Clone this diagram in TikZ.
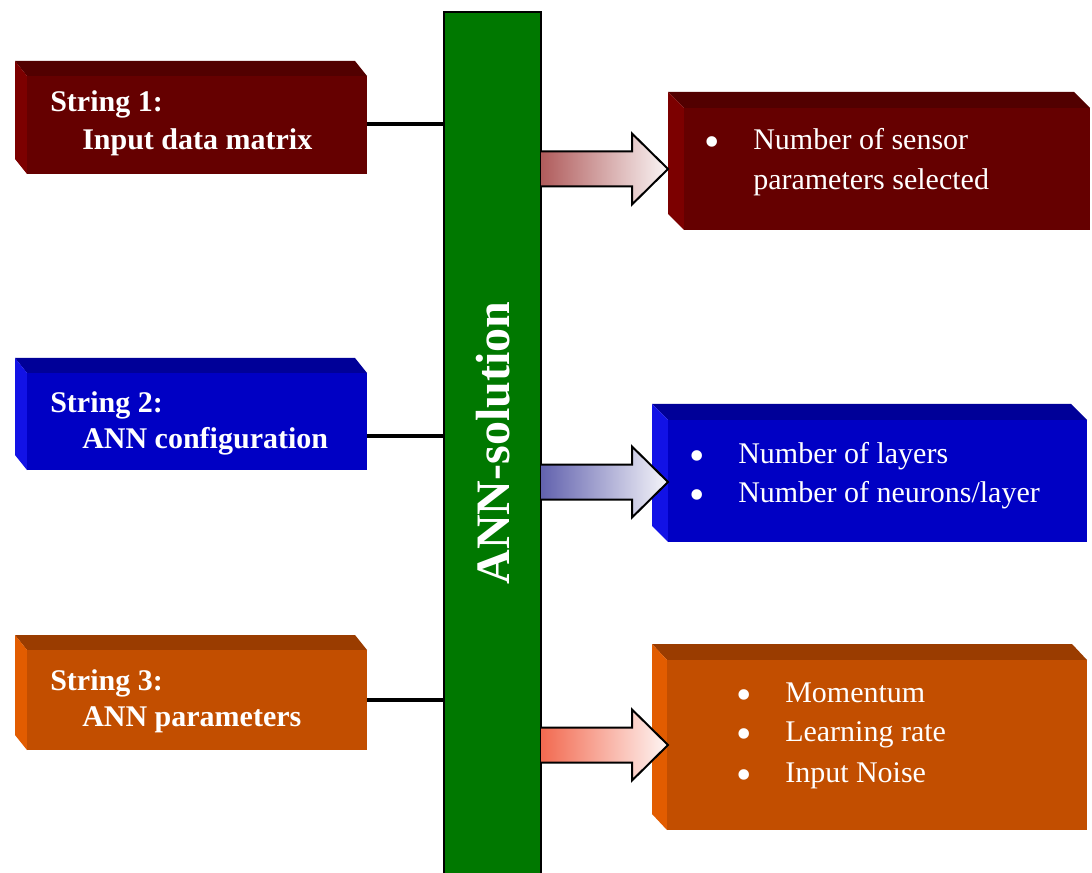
\documentclass[tikz,border=0pt]{standalone}
\usepackage{fontspec}
\setmainfont{Liberation Serif}
\usetikzlibrary{calc,fit}

% face colours of the three box families
\definecolor{redfront}{HTML}{650000}
\definecolor{redtop}{HTML}{520000}
\definecolor{redside}{HTML}{7C0000}
\definecolor{bluefront}{HTML}{0000C4}
\definecolor{bluetop}{HTML}{000098}
\definecolor{blueside}{HTML}{1212E6}
\definecolor{orfront}{HTML}{C24E00}
\definecolor{ortop}{HTML}{9A3C00}
\definecolor{orside}{HTML}{E25C00}
\definecolor{bargreen}{HTML}{007800}
\definecolor{redarrow}{HTML}{B05C5C}
\definecolor{bluearrow}{HTML}{6262AE}
\definecolor{orarrow}{HTML}{F26A50}

% #1 name, (#2,#3)-(#4,#5) front face, #6/#7 depth, #8 colour family
\newcommand{\blockbox}[8]{%
  \fill[#8top] (#2,#3) -- (#2-#6,#3-#7) -- (#4-#6,#3-#7) -- (#4,#3) -- cycle;
  \fill[#8side] (#2,#3) -- (#2-#6,#3-#7) -- (#2-#6,#5-#7) -- (#2,#5) -- cycle;
  \coordinate (#1-nw) at (#2,#3);
  \coordinate (#1-se) at (#4,#5);
  \node[fit=(#1-nw)(#1-se), inner sep=0pt, fill=#8front] (#1) {};
}

% block arrow from the bar to a box: #1 start, #2 tip x, #3 colour
\newcommand{\blockarrow}[3]{%
  \path[draw=black, line width=1.5pt, left color=#3, right color=white!94!#3]
    ($(#1)+(0,-17.5)$) -- ($(#1 -| 0,0)+(#2-36,-17.5)$)
    -- ($(#1 -| 0,0)+(#2-36,-35.5)$) -- ($(#1 -| 0,0)+(#2,0)$)
    -- ($(#1 -| 0,0)+(#2-36,35.5)$) -- ($(#1 -| 0,0)+(#2-36,17.5)$)
    -- ($(#1)+(0,17.5)$);
}

% large bullet followed by the item indent
\newcommand{\itembullet}{%
  \makebox[36.75pt][l]{\raisebox{-5.25pt}{\fontsize{33}{36}\selectfont •}}}

\tikzset{
  conn/.style={line width=2.4pt, black},
  title/.style={anchor=base west, inner sep=0pt, text=white,
    font=\bfseries\fontsize{22.5}{27}\selectfont},
  item/.style={anchor=base west, inner sep=0pt, text=white,
    font=\fontsize{22.5}{27}\selectfont},
}

\begin{document}
\begin{tikzpicture}[x=0.75pt,y=-0.75pt]
\useasboundingbox (0,0) rectangle (1092,873);

% left-hand input blocks
\blockbox{l1}{27}{76}{367}{174}{12}{15}{red}
\blockbox{l2}{27}{373}{367}{470}{12}{15}{blue}
\blockbox{l3}{27}{650}{367}{750}{12}{15}{or}

% right-hand result blocks
\blockbox{r1}{684}{108}{1090}{230}{16}{16}{red}
\blockbox{r2}{668}{420}{1087}{542}{16}{16}{blue}
\blockbox{r3}{667}{660}{1087}{830}{15}{16}{or}

% central bar
\fill[bargreen] (444,12) rectangle (541,876);
\draw[line width=1.5pt] (444,876) -- (444,12) -- (541,12) -- (541,876);
\node[rotate=90, text=white, font=\bfseries\fontsize{36}{40}\selectfont]
  (bar) at (493,443) {ANN-solution};

% connectors from the input blocks to the bar
\coordinate (c1) at (367,124);
\coordinate (c2) at (367,436);
\coordinate (c3) at (367,700);
\draw[conn] (c1) -- (c1 -| 444,0);
\draw[conn] (c2) -- (c2 -| 444,0);
\draw[conn] (c3) -- (c3 -| 444,0);

% arrows from the bar to the result blocks
\coordinate (a1) at (541,169);
\coordinate (a2) at (541,482);
\coordinate (a3) at (541,745);
\blockarrow{a1}{668}{redarrow}
\blockarrow{a2}{668}{bluearrow}
\blockarrow{a3}{668}{orarrow}

% block texts
\node[title] (t1a) at (50,112) {String 1:};
\node[title] (t1b) at (82,150) {Input data matrix};
\node[title] (t2a) at (50,412) {String 2:};
\node[title] (t2b) at (82,448) {ANN configuration};
\node[title] (t3a) at (50,690) {String 3:};
\node[title] (t3b) at (82,726) {ANN parameters};

\node[item] (i1a) at (704,150) {\itembullet Number of sensor};
\node[item] (i1b) at (753,190) {parameters selected};

\node[item] (i2a) at (689,463) {\itembullet Number of layers};
\node[item] (i2b) at (689,502) {\itembullet Number of neurons/layer};

\node[item] (i3a) at (736,702) {\itembullet Momentum};
\node[item] (i3b) at (736,741) {\itembullet Learning rate};
\node[item] (i3c) at (736,782) {\itembullet Input Noise};
\end{tikzpicture}
\end{document}
